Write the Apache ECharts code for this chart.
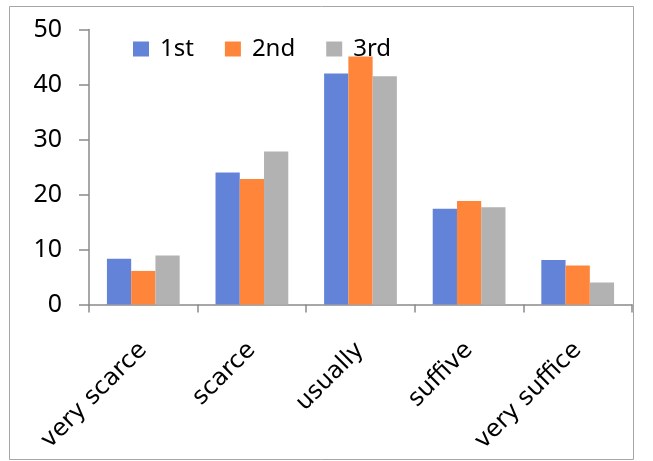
<!DOCTYPE html>
<html><head><meta charset="utf-8">
<script src="https://cdn.jsdelivr.net/npm/echarts@6/dist/echarts.min.js"></script>
<style>html,body{margin:0;padding:0;background:#fff}#c{width:653px;height:461px}</style>
</head><body><div id="c"></div>
<script>
const categories = ['very scarce', 'scarce', 'usually', 'suffive', 'very suffice'];
const seriesNames = ['1st', '2nd', '3rd'];
const first = [8.3, 24.0, 42.0, 17.4, 8.1];
const second = [6.1, 22.8, 45.1, 18.8, 7.1];
const third = [8.9, 27.8, 41.5, 17.7, 4.0];
const yTicks = [0, 10, 20, 30, 40, 50];
const colors = ['#6383D8', '#FE853A', '#B2B2B2'];

const chart = echarts.init(document.getElementById('c'), null, {renderer: 'canvas'});
const axisColor = '#8a8a8a';
chart.setOption({
  animation: false,
  color: colors,
  graphic: [{type: 'rect', shape: {x: 9.5, y: 6.5, width: 624, height: 453}, style: {fill: 'none', stroke: '#a6a6a6', lineWidth: 1}, z: -1}],
  legend: {
    data: seriesNames, left: 133, top: 37, padding: 0, icon: 'rect', itemWidth: 16, itemHeight: 15, itemGap: 31,
    textStyle: {fontFamily: 'Noto Sans', fontSize: 24, color: '#000', padding: [0, 0, 0, 6]}
  },
  grid: {left: 89, right: 21, top: 29.5, bottom: 156.5, containLabel: false},
  xAxis: {
    type: 'category', data: categories,
    axisLine: {lineStyle: {color: axisColor, width: 1.5}},
    axisTick: {show: true, length: 8, lineStyle: {color: axisColor, width: 1.5}},
    axisLabel: {rotate: 45, interval: 0, margin: 42, fontFamily: 'DejaVu Sans', fontSize: 24, color: '#000'}
  },
  yAxis: {
    type: 'value', min: yTicks[0], max: yTicks[yTicks.length - 1], interval: 10,
    axisLine: {show: true, lineStyle: {color: axisColor, width: 1.5}},
    axisTick: {show: true, length: 10, lineStyle: {color: axisColor, width: 1.5}},
    splitLine: {show: false},
    axisLabel: {margin: 27, fontFamily: 'Noto Sans', fontSize: 25, color: '#000'}
  },
  series: [
    {name: seriesNames[0], type: 'bar', data: first, barGap: '0%', barCategoryGap: '33%'},
    {name: seriesNames[1], type: 'bar', data: second, barGap: '0%', barCategoryGap: '33%'},
    {name: seriesNames[2], type: 'bar', data: third, barGap: '0%', barCategoryGap: '33%'}
  ]
});
</script></body></html>
